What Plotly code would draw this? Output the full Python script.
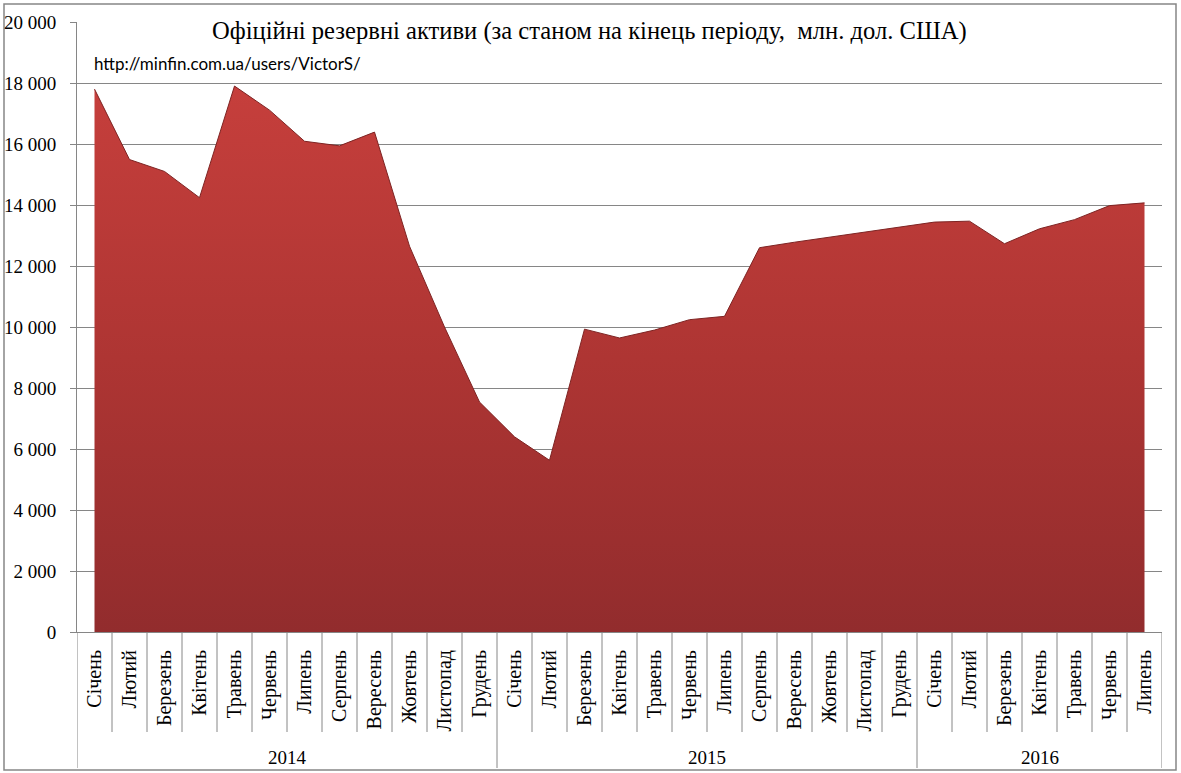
import plotly.graph_objects as go

# data (млн. дол. США, end of month)
months = ["Січень", "Лютий", "Березень", "Квітень", "Травень", "Червень",
          "Липень", "Серпень", "Вересень", "Жовтень", "Листопад", "Грудень"]
years = ["2014", "2015", "2016"]
months_per_year = [12, 12, 7]
month_labels = months * 2 + months[:7]

reserves = [17800, 15490, 15100, 14240, 17900, 17110, 16090, 15940, 16390, 12650, 10000, 7540,
            6400, 5630, 9930, 9640, 9900, 10240, 10350, 12600, 12780, 12950, 13120, 13290,
            13440, 13470, 12730, 13220, 13520, 13980, 14070]

y_ticks = list(range(0, 20001, 2000))

W, H = 1181, 773
L, R, T, B = 77, 19, 22, 141
PW, PH = W - L - R, H - T - B
GRID = "#868686"
SERIF = "Liberation Serif"


def px_x(px):
    # window pixel -> paper x
    return (px - L) / PW


def px_y(py):
    # window pixel -> paper y
    return (H - B - py) / PH


x_idx = list(range(len(reserves)))

fig = go.Figure()
fig.add_trace(go.Scatter(
    x=x_idx, y=reserves,
    mode="lines",
    line=dict(color="#7e2423", width=1),
    fill="tozeroy",
    fillgradient=dict(type="vertical", start=0, stop=18000,
                      colorscale=[[0, "#922c2d"], [0.5, "#ae3533"], [1, "#c63f3c"]]),
    hoverinfo="x+y",
    showlegend=False,
))

shapes = []
# outer chart border
shapes.append(dict(type="rect", xref="paper", yref="paper",
                   x0=px_x(4), x1=px_x(1176), y0=px_y(770), y1=px_y(4),
                   line=dict(color=GRID, width=1.5), layer="below"))

# category table under the axis
n = len(reserves)
year_edges = [0]
for c in months_per_year:
    year_edges.append(year_edges[-1] + c)
for k in range(n + 1):
    if k in year_edges:
        bottom = px_y(768)
    else:
        bottom = px_y(732)
    shapes.append(dict(type="line", xref="x", yref="paper",
                       x0=k - 0.5, x1=k - 0.5, y0=0, y1=bottom,
                       line=dict(color=GRID, width=1)))

annotations = []
for i, yr in enumerate(years):
    mid = (year_edges[i] + year_edges[i + 1]) / 2 - 0.5
    annotations.append(dict(x=mid, y=px_y(757), xref="x", yref="paper",
                            text=yr, showarrow=False,
                            font=dict(family=SERIF, size=19, color="black"),
                            xanchor="center", yanchor="middle"))

annotations.append(dict(x=px_x(589), y=px_y(31), xref="paper", yref="paper",
                        text="Офіційні резервні активи (за станом на кінець періоду,  млн. дол. США)",
                        showarrow=False, xanchor="center", yanchor="middle",
                        font=dict(family=SERIF, size=24.6, color="black")))
annotations.append(dict(x=px_x(92), y=px_y(63), xref="paper", yref="paper",
                        text="http://minfin.com.ua/users/VictorS/",
                        showarrow=False, xanchor="left", yanchor="middle",
                        font=dict(family="Lato", size=17, color="black")))

fig.update_layout(
    width=W, height=H,
    margin=dict(l=L, r=R, t=T, b=B),
    paper_bgcolor="white", plot_bgcolor="white",
    separators=". ",
    shapes=shapes,
    annotations=annotations,
    xaxis=dict(range=[-0.5, n - 0.5], tickmode="array", tickvals=x_idx,
               ticktext=month_labels, tickangle=-90,
               tickfont=dict(family=SERIF, size=20, color="black"),
               showgrid=False, zeroline=False,
               showline=True, linecolor=GRID, linewidth=1,
               ticks="", ticklabelstandoff=9, automargin=False),
    yaxis=dict(range=[0, 20000], tickmode="array", tickvals=y_ticks,
               tickformat=",d",
               tickfont=dict(family=SERIF, size=19, color="black"),
               showgrid=True, gridcolor=GRID, gridwidth=1,
               zeroline=False, showline=True, linecolor=GRID, linewidth=1,
               ticks="outside", ticklen=6, tickcolor=GRID,
               ticklabelstandoff=10, automargin=False),
)

# drop the default body margin so the figure fills the window
fig.write_html("out.html", config={"displayModeBar": False},
               post_script="document.body.style.margin = '0';")
